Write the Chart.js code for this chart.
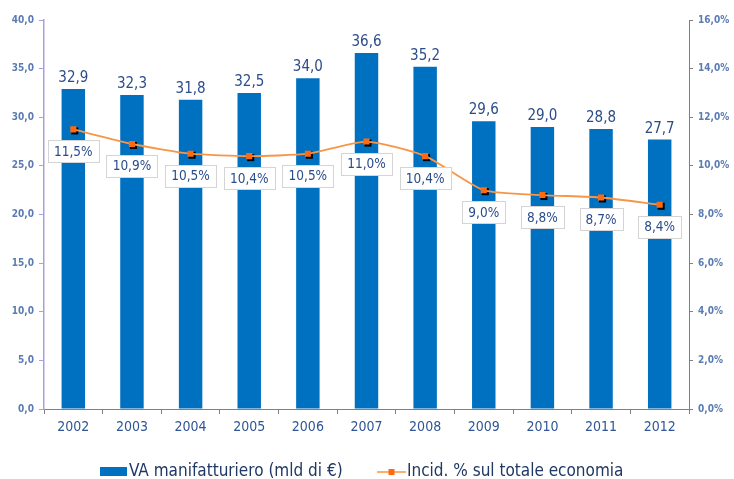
<!DOCTYPE html>
<html>
<head>
<meta charset="utf-8">
<script src="https://cdn.jsdelivr.net/npm/chart.js@4.4.1/dist/chart.umd.min.js"></script>
<style>
  html, body { margin: 0; padding: 0; background: #fff; }
</style>
</head>
<body>
<canvas id="chart" width="734" height="479"></canvas>
<script>
const years = ["2002", "2003", "2004", "2005", "2006", "2007", "2008", "2009", "2010", "2011", "2012"];
const vaValues = [32.9, 32.3, 31.8, 32.5, 34.0, 36.6, 35.2, 29.6, 29.0, 28.8, 27.7];
const incidValues = [11.5, 10.9, 10.5, 10.4, 10.5, 11.0, 10.4, 9.0, 8.8, 8.7, 8.4];
const legendNames = ["VA manifatturiero (mld di €)", "Incid. % sul totale economia"];

const barColor = "#0070C0";
const lineColor = "#F79646";
const markerColor = "#FF6A10";
const labelColor = "#2B4C8A";
const tickColor = "#5A7CB3";
const fontFam = "'DejaVu Sans Condensed', 'DejaVu Sans', sans-serif";

const comma = (v, d) => v.toFixed(d).replace(".", ",");

// black drop shadow under the line markers
const markerShadow = {
  id: "markerShadow",
  beforeDatasetDraw(chart, args) {
    if (args.index !== 1) return;
    const ctx = chart.ctx;
    ctx.save();
    ctx.fillStyle = "#000";
    args.meta.data.forEach((p) => {
      ctx.fillRect(p.x - 2, p.y - 2, 7, 7);
    });
    ctx.restore();
  }
};

// value labels for bars and boxed labels for the line
const valueLabels = {
  id: "valueLabels",
  afterDatasetsDraw(chart) {
    const ctx = chart.ctx;
    ctx.save();
    ctx.textAlign = "center";
    ctx.textBaseline = "middle";

    ctx.font = "15px " + fontFam;
    chart.getDatasetMeta(0).data.forEach((bar, i) => {
      ctx.fillStyle = labelColor;
      ctx.fillText(comma(vaValues[i], 1), bar.x, bar.y - 11);
    });

    ctx.font = "13.5px " + fontFam;
    chart.getDatasetMeta(1).data.forEach((p, i) => {
      const txt = comma(incidValues[i], 1) + "%";
      const w = Math.round(ctx.measureText(txt).width + 12);
      const h = 22;
      const cy = p.y + 22;
      const x0 = Math.round(p.x - w / 2) + 0.5;
      const y0 = Math.round(cy - h / 2) + 0.5;
      ctx.fillStyle = "#fff";
      ctx.fillRect(x0, y0, w, h);
      ctx.strokeStyle = "#D4D4D4";
      ctx.lineWidth = 1;
      ctx.strokeRect(x0, y0, w, h);
      ctx.fillStyle = labelColor;
      ctx.fillText(txt, p.x, cy + 1);
    });
    ctx.restore();
  }
};

// legend drawn below the axis
const bottomLegend = {
  id: "bottomLegend",
  afterDraw(chart) {
    const ctx = chart.ctx;
    const y = 472;
    ctx.save();
    ctx.font = "17px " + fontFam;
    ctx.textBaseline = "middle";

    ctx.fillStyle = barColor;
    ctx.fillRect(100, y - 5, 27, 9);
    ctx.fillStyle = "#203864";
    ctx.fillText(legendNames[0], 129, y);

    ctx.strokeStyle = lineColor;
    ctx.lineWidth = 1.5;
    ctx.beginPath();
    ctx.moveTo(377, y);
    ctx.lineTo(406, y);
    ctx.stroke();
    ctx.fillStyle = markerColor;
    ctx.fillRect(388.5, y - 3, 6, 6);
    ctx.fillStyle = "#203864";
    ctx.fillText(legendNames[1], 407, y);
    ctx.restore();
  }
};

new Chart(document.getElementById("chart"), {
  data: {
    labels: years,
    datasets: [
      {
        type: "bar",
        label: legendNames[0],
        data: vaValues,
        backgroundColor: barColor,
        yAxisID: "y",
        barPercentage: 0.4,
        categoryPercentage: 1,
        order: 2
      },
      {
        type: "line",
        label: legendNames[1],
        data: incidValues,
        yAxisID: "y1",
        borderColor: lineColor,
        borderWidth: 1.8,
        tension: 0.2,
        pointStyle: "rect",
        pointRadius: 4.3,
        pointBackgroundColor: markerColor,
        pointBorderColor: markerColor,
        pointBorderWidth: 0,
        order: 1
      }
    ]
  },
  options: {
    responsive: false,
    animation: false,
    layout: { padding: { top: 20, left: 0, right: 0, bottom: 0 } },
    plugins: {
      legend: { display: false },
      tooltip: { enabled: false }
    },
    scales: {
      x: {
        offset: true,
        grid: { drawOnChartArea: false, tickLength: 5, color: "#808080", offset: true },
        border: { color: "#808080" },
        ticks: { color: "#2F5597", font: { family: fontFam, size: 14 }, padding: 5 },
        afterFit: (s) => { s.height = 70; }
      },
      y: {
        position: "left",
        min: 0,
        max: 40,
        ticks: {
          stepSize: 5,
          color: tickColor,
          font: { family: fontFam, size: 10, weight: "bold" },
          padding: 5,
          callback: (v) => comma(v, 1)
        },
        grid: { drawOnChartArea: false, tickLength: 5, color: "#A9A0D8" },
        border: { color: "#A9A0D8", width: 1.5 },
        afterFit: (s) => { s.width = 44; }
      },
      y1: {
        position: "right",
        min: 0,
        max: 16,
        ticks: {
          stepSize: 2,
          color: tickColor,
          font: { family: fontFam, size: 10, weight: "bold" },
          padding: 5,
          callback: (v) => comma(v, 1) + "%"
        },
        grid: { drawOnChartArea: false, tickLength: 4, color: "#808080" },
        border: { color: "#808080" },
        afterFit: (s) => { s.width = 45; }
      }
    }
  },
  plugins: [markerShadow, valueLabels, bottomLegend]
});
</script>
</body>
</html>
